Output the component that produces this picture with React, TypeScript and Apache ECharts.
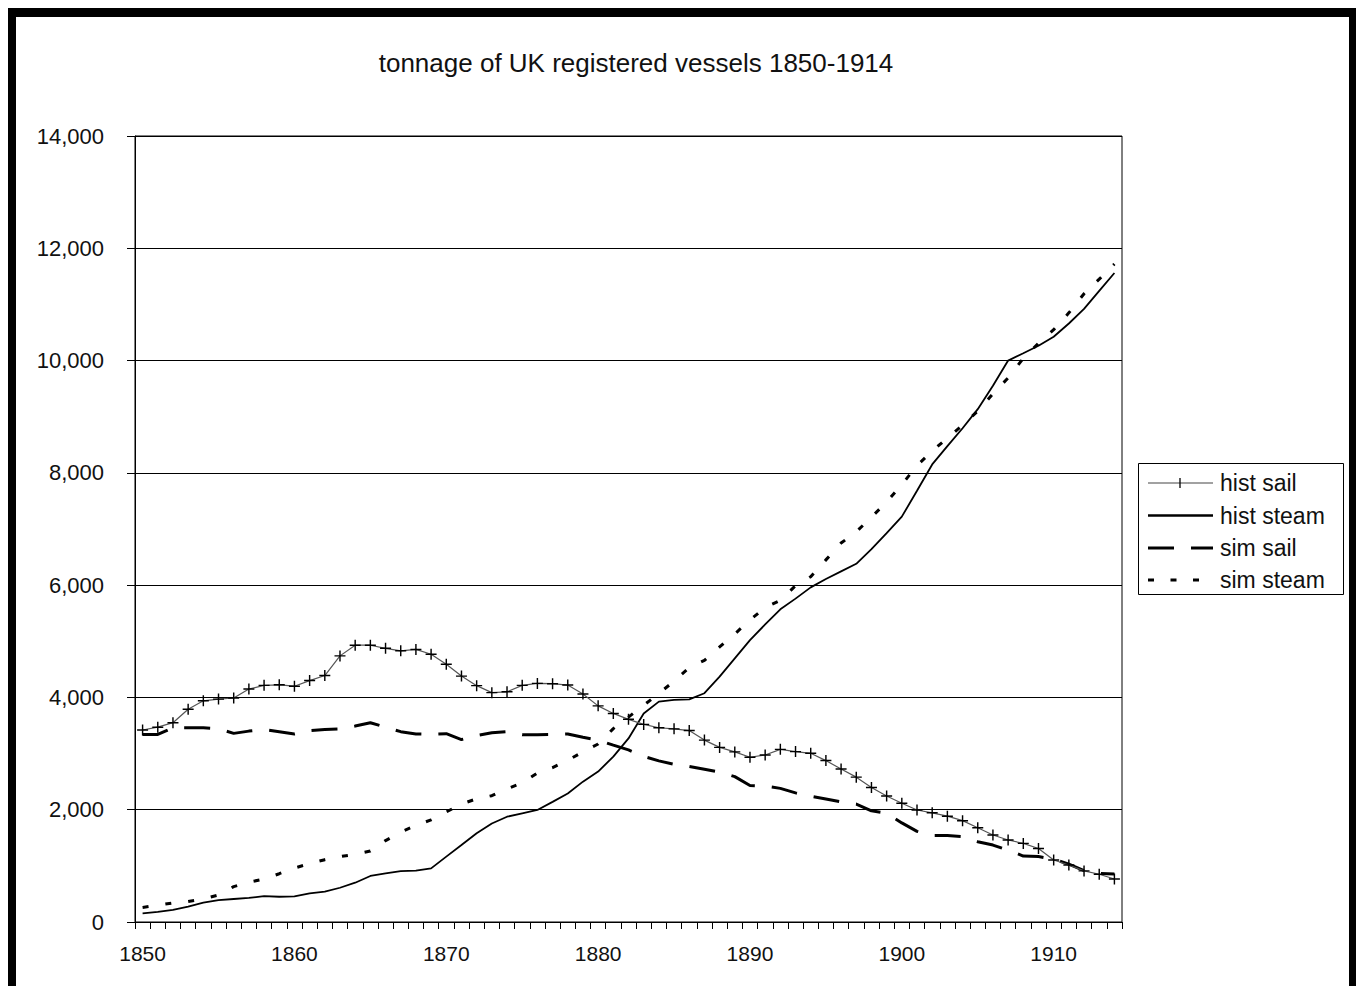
import React, { useEffect, useRef } from "react";
import * as echarts from "echarts";

const years = [
  "1850", "1851", "1852", "1853", "1854", "1855", "1856", "1857", "1858", "1859",
  "1860", "1861", "1862", "1863", "1864", "1865", "1866", "1867", "1868", "1869",
  "1870", "1871", "1872", "1873", "1874", "1875", "1876", "1877", "1878", "1879",
  "1880", "1881", "1882", "1883", "1884", "1885", "1886", "1887", "1888", "1889",
  "1890", "1891", "1892", "1893", "1894", "1895", "1896", "1897", "1898", "1899",
  "1900", "1901", "1902", "1903", "1904", "1905", "1906", "1907", "1908", "1909",
  "1910", "1911", "1912", "1913", "1914",
];

const histSail = [
  3420, 3470, 3550, 3790, 3940, 3970, 3990, 4150, 4215, 4225,
  4200, 4300, 4390, 4740, 4930, 4930, 4875, 4830, 4855, 4770,
  4590, 4380, 4210, 4085, 4100, 4215, 4250, 4245, 4220, 4060,
  3850, 3715, 3610, 3520, 3460, 3440, 3410, 3240, 3110, 3030,
  2935, 2975, 3075, 3035, 3005, 2875, 2725, 2580, 2395, 2245,
  2115, 1995, 1945, 1885, 1805, 1680, 1550, 1460, 1400, 1310,
  1105, 1015, 910, 850, 765,
];

const histSteam = [
  155, 180, 215, 275, 345, 390, 410, 430, 460, 450,
  455, 510, 540, 610, 700, 820, 865, 905, 915, 955,
  1165, 1370, 1580, 1755, 1875, 1935, 1995, 2140, 2290, 2500,
  2680, 2945, 3270, 3715, 3925, 3955, 3965, 4075, 4370, 4695,
  5020, 5300, 5570, 5760, 5960, 6110, 6245, 6380, 6640, 6925,
  7220, 7680, 8150, 8475, 8795, 9135, 9550, 10000, 10130, 10265,
  10425, 10660, 10920, 11240, 11560,
];

const simSail = [
  3340, 3340, 3460, 3460, 3460, 3440, 3360, 3400, 3430, 3390,
  3350, 3410, 3430, 3440, 3490, 3550, 3470, 3390, 3350, 3345,
  3355, 3250, 3320, 3370, 3390, 3335, 3335, 3340, 3350, 3290,
  3240, 3150, 3065, 2950, 2870, 2810, 2770, 2720, 2670, 2590,
  2430, 2420, 2380, 2300, 2240, 2190, 2140, 2100, 1980, 1940,
  1765, 1615, 1540, 1540, 1520, 1430, 1370, 1280, 1175, 1165,
  1120, 1030, 915, 865, 855,
];

const simSteam = [
  260, 300, 340, 365, 410, 480, 630, 710, 765, 860,
  960, 1040, 1110, 1165, 1205, 1265, 1450, 1600, 1720, 1820,
  1960, 2100, 2195, 2250, 2370, 2480, 2655, 2750, 2880, 3030,
  3170, 3445, 3650, 3860, 4070, 4290, 4530, 4660, 4900, 5130,
  5380, 5600, 5730, 5990, 6150, 6450, 6750, 6950, 7210, 7480,
  7790, 8130, 8390, 8620, 8850, 9100, 9410, 9690, 10040, 10310,
  10550, 10850, 11190, 11450, 11720,
];

const seriesNames = ["hist sail", "hist steam", "sim sail", "sim steam"];
const titleText = "tonnage of UK registered vessels 1850-1914";
const yTicks = { min: 0, max: 14000, interval: 2000 };

const FONT = "'Liberation Sans', Arial, sans-serif";
const PLUS =
  "path://M4.35,0h1.3v4.35h4.35v1.3h-4.35v4.35h-1.3v-4.35h-4.35v-1.3h4.35z";

export default function App() {
  const ref = useRef<HTMLDivElement>(null);

  useEffect(() => {
    if (!ref.current) return;
    const chart = echarts.init(ref.current, undefined, { renderer: "svg" });

    const legendX0 = 1140;
    const legendX1 = 1205;
    const legendTextX = 1212;
    const legendYs = [475, 507.5, 540, 572];

    const legendGraphic: any[] = [
      {
        type: "rect",
        shape: { x: 1130.5, y: 455.5, width: 205, height: 131 },
        style: { fill: "#fff", stroke: "#000", lineWidth: 1 },
        z: 10,
      },
      {
        type: "line",
        shape: { x1: legendX0, y1: legendYs[0], x2: legendX1, y2: legendYs[0] },
        style: { stroke: "#444", lineWidth: 1.2 },
        z: 11,
      },
      {
        type: "line",
        shape: { x1: 1172, y1: legendYs[0] - 5, x2: 1172, y2: legendYs[0] + 5 },
        style: { stroke: "#000", lineWidth: 1.3 },
        z: 11,
      },
      {
        type: "line",
        shape: { x1: legendX0, y1: legendYs[1], x2: legendX1, y2: legendYs[1] },
        style: { stroke: "#000", lineWidth: 2.5 },
        z: 11,
      },
      {
        type: "line",
        shape: { x1: legendX0, y1: legendYs[2], x2: legendX1, y2: legendYs[2] },
        style: { stroke: "#000", lineWidth: 3, lineDash: [26, 17] },
        z: 11,
      },
      {
        type: "line",
        shape: { x1: legendX0, y1: legendYs[3], x2: legendX1, y2: legendYs[3] },
        style: { stroke: "#000", lineWidth: 3, lineDash: [6, 16.5] },
        z: 11,
      },
      ...seriesNames.map((n, i) => ({
        type: "text",
        x: legendTextX,
        y: legendYs[i],
        style: {
          text: n,
          fill: "#111",
          font: `23px ${FONT}`,
          textAlign: "left",
          textVerticalAlign: "middle",
        },
        z: 11,
      })),
    ];

    const frame: any[] = [
      { type: "rect", shape: { x: 0, y: 0, width: 1352, height: 9 }, style: { fill: "#000" }, z: 20 },
      { type: "rect", shape: { x: 0, y: 0, width: 8, height: 978 }, style: { fill: "#000" }, z: 20 },
      { type: "rect", shape: { x: 1341, y: 0, width: 11, height: 978 }, style: { fill: "#000" }, z: 20 },
    ];

    chart.setOption({
      animation: false,
      backgroundColor: "#fff",
      title: {
        text: titleText,
        left: 628,
        top: 55,
        padding: 0,
        textAlign: "center",
        textVerticalAlign: "middle",
        textStyle: {
          fontFamily: FONT,
          fontSize: 26,
          fontWeight: "normal",
          color: "#111",
        },
      },
      grid: {
        left: 127,
        top: 128,
        right: 238,
        bottom: 64,
        show: true,
        borderColor: "#000",
        borderWidth: 1,
        backgroundColor: "transparent",
      },
      xAxis: {
        type: "category",
        data: years,
        boundaryGap: true,
        axisLine: { show: true, lineStyle: { color: "#000", width: 1 } },
        axisTick: {
          show: true,
          interval: 0,
          length: 7,
          lineStyle: { color: "#000", width: 1 },
        },
        axisLabel: {
          interval: 9,
          margin: 21,
          fontFamily: FONT,
          fontSize: 21,
          color: "#111",
        },
        splitLine: { show: false },
      },
      yAxis: {
        type: "value",
        min: yTicks.min,
        max: yTicks.max,
        interval: yTicks.interval,
        axisLine: { show: true, lineStyle: { color: "#000", width: 1 } },
        axisTick: { show: true, length: 8, lineStyle: { color: "#000", width: 1 } },
        axisLabel: {
          margin: 31,
          fontFamily: FONT,
          fontSize: 22,
          color: "#111",
          formatter: (v: number) => v.toLocaleString("en-US"),
        },
        splitLine: { show: true, lineStyle: { color: "#000", width: 1 } },
      },
      series: [
        {
          name: seriesNames[0],
          type: "line",
          data: histSail,
          symbol: PLUS,
          symbolSize: 11,
          showSymbol: true,
          showAllSymbol: true,
          itemStyle: { color: "#000" },
          lineStyle: { color: "#555", width: 1.2 },
          z: 4,
        },
        {
          name: seriesNames[1],
          type: "line",
          data: histSteam,
          symbol: "none",
          lineStyle: { color: "#000", width: 1.8 },
          z: 3,
        },
        {
          name: seriesNames[2],
          type: "line",
          data: simSail,
          symbol: "none",
          lineStyle: { color: "#000", width: 3, type: [26, 17] },
          z: 3,
        },
        {
          name: seriesNames[3],
          type: "line",
          data: simSteam,
          symbol: "none",
          lineStyle: { color: "#000", width: 3, type: [6, 17] },
          z: 3,
        },
      ],
      graphic: [...legendGraphic, ...frame],
    });

    return () => chart.dispose();
  }, []);

  return <div ref={ref} style={{ width: 1352, height: 978 }} />;
}
